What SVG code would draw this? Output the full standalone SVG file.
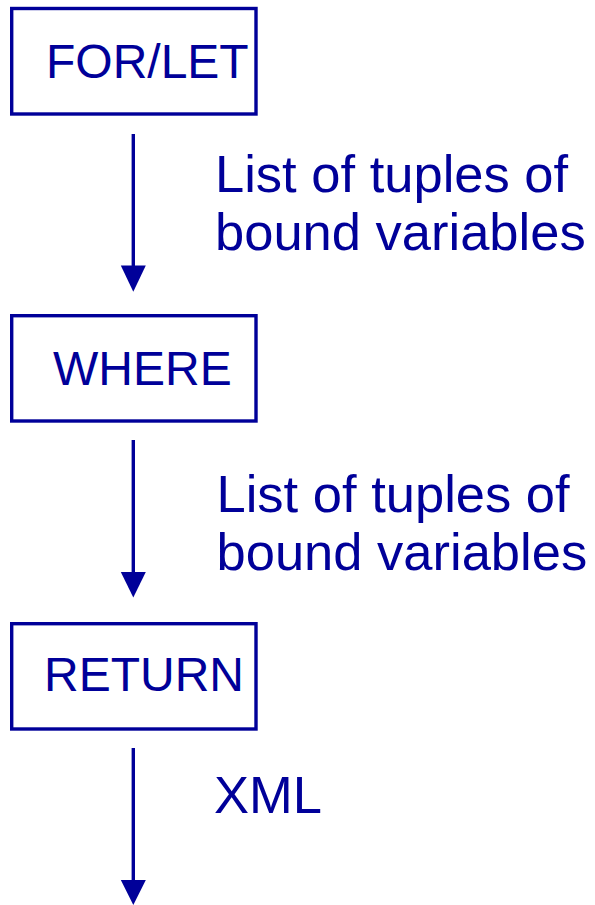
<svg xmlns="http://www.w3.org/2000/svg" width="595" height="905" viewBox="0 0 595 905">
  <defs>
    <style>
      .box { fill: #ffffff; stroke: #000099; stroke-width: 3.4; }
      .node-text { font-family: "Liberation Sans", Arial, sans-serif; font-size: 48px; fill: #000099; }
      .label { font-family: "Liberation Sans", Arial, sans-serif; font-size: 52.5px; fill: #000099; }
      .flow { stroke: #000099; stroke-width: 3.4; fill: none; }
      .tip { fill: #000099; }
    </style>
  </defs>
  <rect width="595" height="905" fill="#ffffff"/>

  <!-- pipeline stages -->
  <g id="for-let">
    <rect class="box" x="11.7" y="8.5" width="244.3" height="105.5"/>
    <text class="node-text" x="46" y="78">FOR/LET</text>
  </g>
  <g id="where">
    <rect class="box" x="11.7" y="315.7" width="244.3" height="105.3"/>
    <text class="node-text" x="53" y="385">WHERE</text>
  </g>
  <g id="return">
    <rect class="box" x="11.7" y="623.7" width="244.3" height="105.3"/>
    <text class="node-text" x="44" y="691">RETURN</text>
  </g>

  <!-- data flowing between stages -->
  <g id="connectors">
    <line class="flow" x1="133.3" y1="134" x2="133.3" y2="268"/>
    <polygon class="tip" points="120.8,265.5 145.8,265.5 133.3,291.7"/>
    <line class="flow" x1="133.3" y1="440" x2="133.3" y2="574"/>
    <polygon class="tip" points="120.8,572 145.8,572 133.3,597.5"/>
    <line class="flow" x1="133.3" y1="748" x2="133.3" y2="882"/>
    <polygon class="tip" points="120.8,880 145.8,880 133.3,905"/>
  </g>

  <g id="edge-labels">
    <text class="label" x="215" y="191.7">List of tuples of</text>
    <text class="label" x="215" y="250">bound variables</text>
    <text class="label" x="216.5" y="511.7">List of tuples of</text>
    <text class="label" x="216.5" y="570">bound variables</text>
    <text class="label" x="214" y="813">XML</text>
  </g>
</svg>
